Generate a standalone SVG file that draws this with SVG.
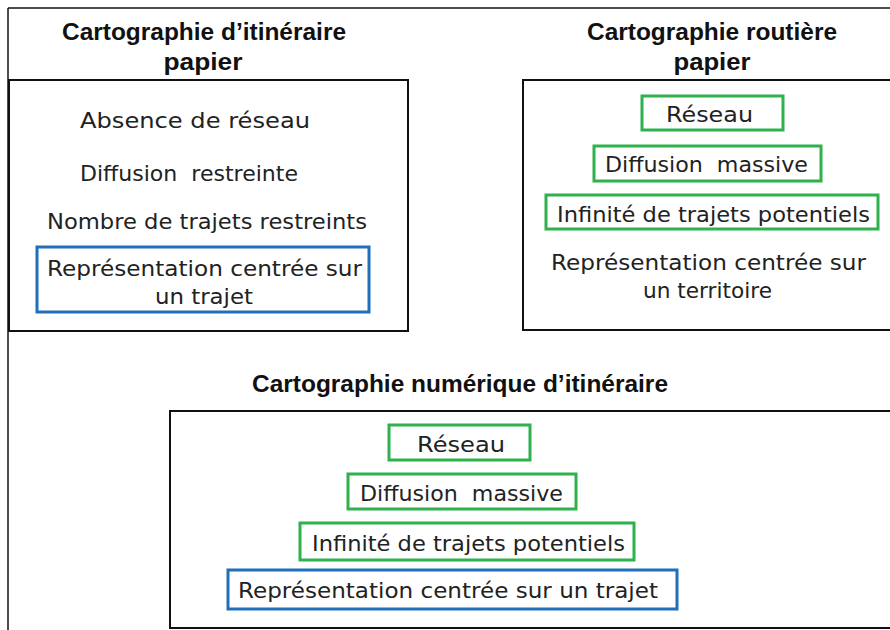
<svg xmlns="http://www.w3.org/2000/svg" width="890" height="630" viewBox="0 0 890 630">
<style>
.frame{fill:none;stroke:#111;stroke-width:1.5}
.box{fill:none;stroke:#111;stroke-width:2}
.g{fill:#fff;stroke:#2fb24c;stroke-width:3}
.b{fill:#fff;stroke:#1f6fba;stroke-width:3}
.t{font-family:"DejaVu Sans","Liberation Sans",sans-serif;font-size:22px;fill:#222;white-space:pre}
.h{font-family:"Liberation Sans","DejaVu Sans",sans-serif;font-size:23px;font-weight:bold;fill:#111;text-anchor:middle}
</style>
<rect width="890" height="630" fill="#fff"/>
<g id="frame">
<line class="frame" x1="8" y1="8" x2="890" y2="8"/>
<line class="frame" x1="8" y1="8" x2="8" y2="630"/>
</g>
<g id="titles">
<text class="h" x="204" y="40" textLength="284" lengthAdjust="spacingAndGlyphs">Cartographie d’itinéraire</text>
<text class="h" x="203" y="70" textLength="79" lengthAdjust="spacingAndGlyphs">papier</text>
<text class="h" x="712" y="40" textLength="250" lengthAdjust="spacingAndGlyphs">Cartographie routière</text>
<text class="h" x="712" y="70" textLength="77" lengthAdjust="spacingAndGlyphs">papier</text>
<text class="h" x="460" y="392" textLength="416" lengthAdjust="spacingAndGlyphs">Cartographie numérique d’itinéraire</text>
</g>
<g id="itineraire-papier">
<rect class="box" x="9" y="80" width="399" height="251"/>
<text class="t" x="80" y="128" textLength="230" lengthAdjust="spacingAndGlyphs">Absence de réseau</text>
<text class="t" x="80" y="181" textLength="218" lengthAdjust="spacingAndGlyphs" xml:space="preserve">Diffusion  restreinte</text>
<text class="t" x="47" y="229" textLength="320" lengthAdjust="spacingAndGlyphs">Nombre de trajets restreints</text>
<rect class="b" x="37" y="247" width="332" height="65"/>
<text class="t" x="47" y="276" textLength="315" lengthAdjust="spacingAndGlyphs">Représentation centrée sur</text>
<text class="t" x="155" y="304" textLength="98" lengthAdjust="spacingAndGlyphs">un trajet</text>
</g>
<g id="routiere-papier">
<rect class="box" x="523" y="80" width="380" height="250"/>
<rect class="g" x="642" y="96" width="141" height="34"/>
<text class="t" x="666" y="122" textLength="87" lengthAdjust="spacingAndGlyphs">Réseau</text>
<rect class="g" x="594" y="146" width="227" height="35"/>
<text class="t" x="605" y="172" textLength="203" lengthAdjust="spacingAndGlyphs" xml:space="preserve">Diffusion  massive</text>
<rect class="g" x="546" y="195" width="332" height="34"/>
<text class="t" x="557" y="222" textLength="313" lengthAdjust="spacingAndGlyphs">Infinité de trajets potentiels</text>
<text class="t" x="551" y="270" textLength="315" lengthAdjust="spacingAndGlyphs">Représentation centrée sur</text>
<text class="t" x="643" y="298" textLength="129" lengthAdjust="spacingAndGlyphs">un territoire</text>
</g>
<g id="numerique">
<rect class="box" x="170" y="411" width="740" height="217"/>
<rect class="g" x="389" y="425" width="141" height="35"/>
<text class="t" x="417" y="452" textLength="88" lengthAdjust="spacingAndGlyphs">Réseau</text>
<rect class="g" x="348" y="474" width="228" height="35"/>
<text class="t" x="360" y="501" textLength="203" lengthAdjust="spacingAndGlyphs" xml:space="preserve">Diffusion  massive</text>
<rect class="g" x="300" y="523" width="334" height="37"/>
<text class="t" x="312" y="551" textLength="313" lengthAdjust="spacingAndGlyphs">Infinité de trajets potentiels</text>
<rect class="b" x="228" y="570" width="449" height="39"/>
<text class="t" x="238" y="598" textLength="420" lengthAdjust="spacingAndGlyphs">Représentation centrée sur un trajet</text>
</g>
<g id="connectors"/>
</svg>
